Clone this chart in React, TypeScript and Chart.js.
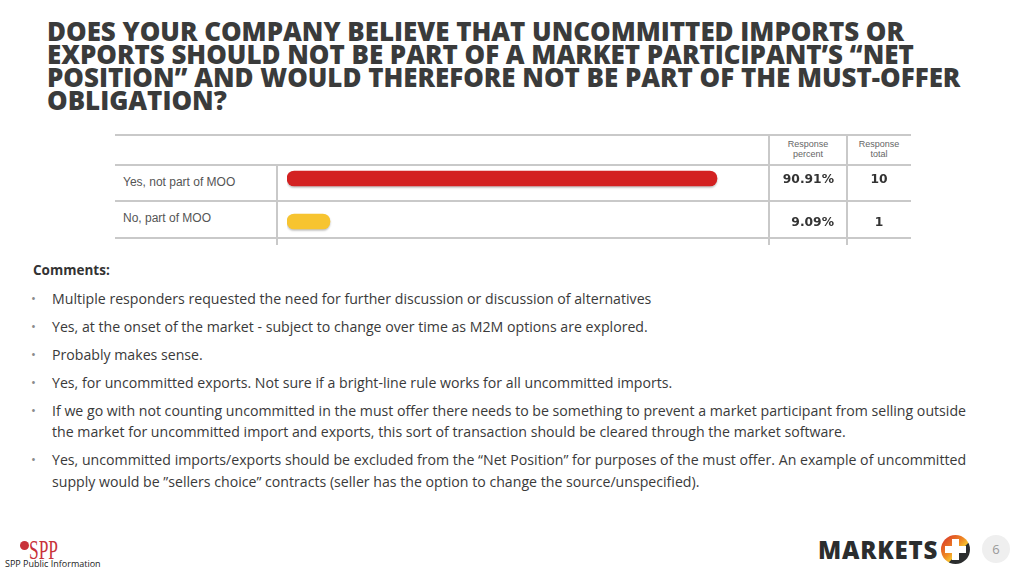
import React, { useEffect, useRef } from "react";
import { Chart, registerables } from "chart.js";

Chart.register(...registerables);

const categories = ["Yes, not part of MOO", "No, part of MOO"];
const responsePercent = [90.91, 9.09];
const responseTotal = [10, 1];
const barColors = ["#d32121", "#f7c430"];
const percentLabels = ["90.91%", "9.09%"];

const titleLines = [
  "DOES YOUR COMPANY BELIEVE THAT UNCOMMITTED IMPORTS OR",
  "EXPORTS SHOULD NOT BE PART OF A MARKET PARTICIPANT\u2019S \u201CNET",
  "POSITION\u201D AND WOULD THEREFORE NOT BE PART OF THE MUST-OFFER",
  "OBLIGATION?",
];

const comments: string[][] = [
  ["Multiple responders requested the need for further discussion or discussion of alternatives"],
  ["Yes, at the onset of the market - subject to change over time as M2M options are explored."],
  ["Probably makes sense."],
  ["Yes, for uncommitted exports. Not sure if a bright-line rule works for all uncommitted imports."],
  [
    "If we go with not counting uncommitted in the must offer there needs to be something to prevent a market participant from selling outside",
    "the market for uncommitted import and exports, this sort of transaction should be cleared through the market software.",
  ],
  [
    "Yes, uncommitted imports/exports should be excluded from the \u201CNet Position\u201D for purposes of the must offer. An example of uncommitted",
    "supply would be \u201Dsellers choice\u201D contracts (seller has the option to change the source/unspecified).",
  ],
];

const TABLE_LEFT = 115;
const TABLE_TOP = 135;
const TABLE_W = 796;
const TABLE_H = 110;

function BarTable() {
  const ref = useRef<HTMLCanvasElement>(null);
  useEffect(() => {
    if (!ref.current) return;
    const valuesPlugin = {
      id: "values",
      beforeDatasetsDraw(chart: any) {
        const ctx = chart.ctx;
        ctx.save();
        ctx.shadowColor = "rgba(0,0,0,0.25)";
        ctx.shadowOffsetY = 1.5;
        ctx.shadowBlur = 2;
      },
      afterDatasetsDraw(chart: any) {
        const ctx = chart.ctx;
        ctx.restore();
        const y = chart.scales.y;
        ctx.save();
        ctx.fillStyle = "#333";
        ctx.textBaseline = "middle";
        ctx.font = "bold 12.3px 'DejaVu Sans', Verdana, sans-serif";
        categories.forEach((_, i) => {
          const py = y.getPixelForValue(i) + 1;
          ctx.textAlign = "right";
          ctx.fillText(percentLabels[i], 834 - TABLE_LEFT, py);
          ctx.textAlign = "center";
          ctx.fillText(String(responseTotal[i]), 879 - TABLE_LEFT, py);
        });
        ctx.restore();
      },
    };
    const chart = new Chart(ref.current, {
      type: "bar",
      data: {
        labels: categories,
        datasets: [
          {
            data: responsePercent,
            backgroundColor: barColors,
            borderRadius: 8,
            borderSkipped: false,
            barThickness: 15,
          },
        ],
      },
      options: {
        indexAxis: "y",
        animation: false,
        responsive: false,
        maintainAspectRatio: false,
        layout: { padding: { left: 172, right: 151, top: 22, bottom: 2 } },
        scales: {
          x: { display: false, min: 0, max: 100 },
          y: { display: false },
        },
        plugins: { legend: { display: false }, tooltip: { enabled: false } },
      },
      plugins: [valuesPlugin],
    } as any);
    return () => chart.destroy();
  }, []);

  const line = "#c9c9c9";
  const hLine = (top: number) => (
    <div style={{ position: "absolute", left: TABLE_LEFT, top, width: TABLE_W, height: 2, background: line }} />
  );
  const vLine = (left: number, top: number) => (
    <div style={{ position: "absolute", left, top, width: 2, height: 245 - top, background: line }} />
  );
  const labelStyle: React.CSSProperties = {
    position: "absolute",
    left: 123,
    fontFamily: "'Liberation Sans', Arial, sans-serif",
    fontSize: 12,
    color: "#555",
    lineHeight: "14px",
    whiteSpace: "nowrap",
  };
  const headStyle: React.CSSProperties = {
    position: "absolute",
    top: 139,
    width: 70,
    textAlign: "center",
    fontFamily: "'Liberation Sans', Arial, sans-serif",
    fontSize: 9,
    lineHeight: "10px",
    color: "#666",
  };
  return (
    <>
      {hLine(134)}
      {hLine(164)}
      {hLine(200)}
      {hLine(237)}
      {vLine(276, 164)}
      {vLine(768, 134)}
      {vLine(846, 134)}
      <div style={{ ...headStyle, left: 773 }}>Response<br />percent</div>
      <div style={{ ...headStyle, left: 844 }}>Response<br />total</div>
      <div style={{ ...labelStyle, top: 175 }}>{categories[0]}</div>
      <div style={{ ...labelStyle, top: 211 }}>{categories[1]}</div>
      <canvas
        ref={ref}
        width={TABLE_W}
        height={TABLE_H}
        style={{ position: "absolute", left: TABLE_LEFT, top: TABLE_TOP, width: TABLE_W, height: TABLE_H }}
      />
    </>
  );
}

export default function App() {
  return (
    <div
      style={{
        position: "fixed",
        left: 0,
        top: 0,
        width: 1024,
        height: 576,
        background: "#fff",
        overflow: "hidden",
        fontFamily: "'Open Sans', sans-serif",
      }}
    >
      <div
        style={{
          position: "absolute",
          left: 47,
          top: 20,
          fontFamily: "'Open Sans', sans-serif",
          fontWeight: 800,
          fontSize: 25.9,
          lineHeight: "23px",
          color: "#3a3b3b",
          whiteSpace: "nowrap",
        }}
      >
        {titleLines.map((t, i) => (
          <div key={i}>{t}</div>
        ))}
      </div>

      <BarTable />

      <div
        style={{
          position: "absolute",
          left: 33,
          top: 261,
          fontWeight: 700,
          fontSize: 13.5,
          color: "#333",
        }}
      >
        Comments:
      </div>
      <div style={{ position: "absolute", left: 0, top: 288, fontSize: 14.15, color: "#3a3a3a" }}>
        {comments.map((c, i) => (
          <div key={i} style={{ position: "relative", marginBottom: 6.6 }}>
            <span style={{ position: "absolute", left: 31, top: 0, color: "#8a8a8a", fontSize: 13, lineHeight: "21.4px" }}>
              {"\u2022"}
            </span>
            {c.map((l, j) => (
              <div key={j} style={{ paddingLeft: 52, lineHeight: "21.4px", whiteSpace: "nowrap" }}>
                {l}
              </div>
            ))}
          </div>
        ))}
      </div>

      {/* SPP logo */}
      <div style={{ position: "absolute", left: 20, top: 541, width: 9, height: 9, borderRadius: 5, background: "#c8323a" }} />
      <div
        style={{
          position: "absolute",
          left: 29,
          top: 535,
          fontFamily: "'Liberation Serif', serif",
          fontSize: 28,
          fontWeight: 400,
          color: "#c8323a",
          transform: "scaleX(0.62)",
          transformOrigin: "left",
          lineHeight: "30px",
        }}
      >
        SPP
      </div>
      <div style={{ position: "absolute", left: 5, top: 557, fontSize: 9, color: "#222", lineHeight: "14px" }}>
        SPP Public Information
      </div>

      {/* MARKETS logo */}
      <div
        style={{
          position: "absolute",
          left: 818,
          top: 534,
          fontWeight: 800,
          fontSize: 24,
          color: "#2b2d2e",
          lineHeight: "32px",
          letterSpacing: 0.8,
        }}
      >
        MARKETS
      </div>
      <div
        style={{
          position: "absolute",
          left: 941,
          top: 535,
          width: 29,
          height: 29,
          borderRadius: 15,
          background: "linear-gradient(135deg, #d62a2a 0%, #ef8a23 45%, #f7c330 60%, #2b2d2e 61%, #2b2d2e 100%)",
        }}
      >
        <div style={{ position: "absolute", left: 11, top: 4, width: 7, height: 21, background: "#fff" }} />
        <div style={{ position: "absolute", left: 4, top: 11, width: 21, height: 7, background: "#fff" }} />
      </div>
      <div
        style={{
          position: "absolute",
          left: 982,
          top: 535,
          width: 28,
          height: 28,
          borderRadius: 14,
          background: "#efefef",
          color: "#999",
          fontSize: 13,
          textAlign: "center",
          lineHeight: "28px",
        }}
      >
        6
      </div>
    </div>
  );
}
